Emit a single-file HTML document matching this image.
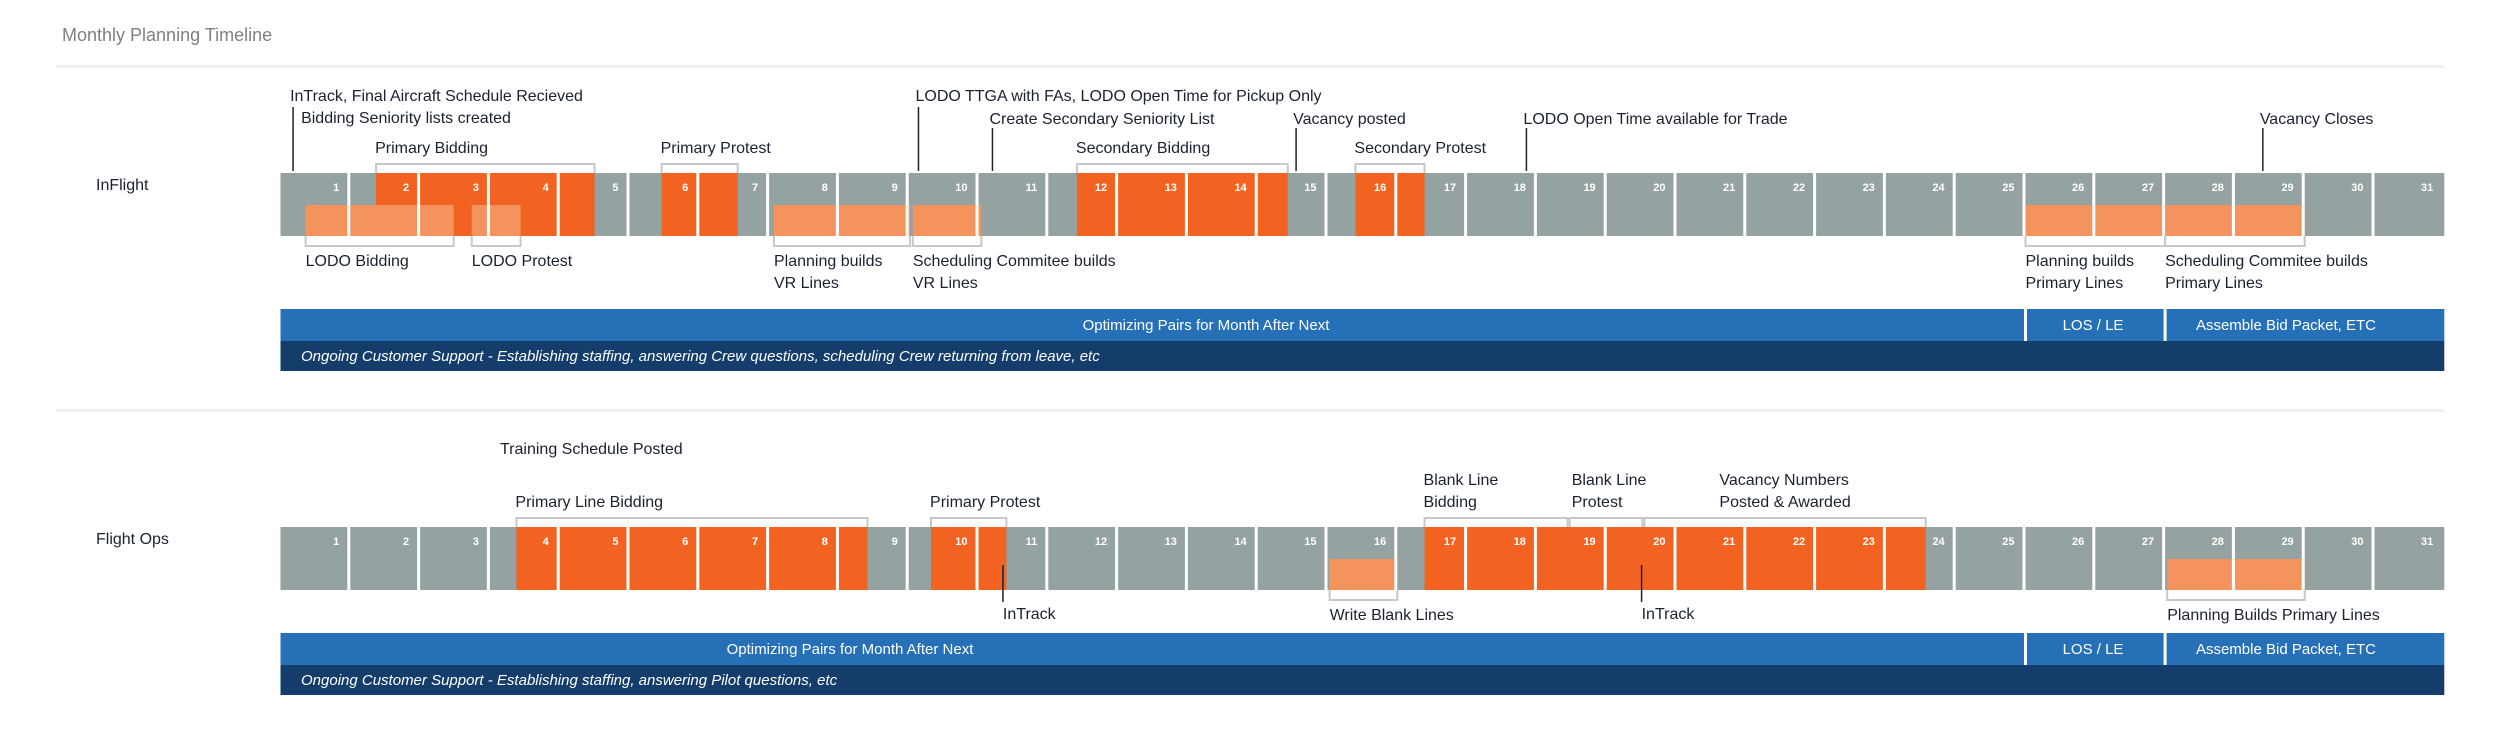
<!DOCTYPE html>
<html><head><meta charset="utf-8"><style>
html,body{margin:0;padding:0;background:#fff;}
svg{display:block;font-family:"Liberation Sans",sans-serif;}
</style></head><body>
<svg id="c" width="2500" height="743" viewBox="0 0 2500 743" xmlns="http://www.w3.org/2000/svg">
<text x="62" y="41" font-size="18" fill="#808080">Monthly Planning Timeline</text>
<rect x="56" y="65" width="2388" height="3" fill="#f0f0f0"/>
<rect x="56" y="409" width="2388" height="3" fill="#f0f0f0"/>
</svg>
<script>
const days = Array.from({length:31},(_,i)=>i+1);
// Inflight data (day units, fractional)
const inflightDark = [[1.37,4.5],[5.46,6.55],[11.41,14.43],[15.4,16.39]];
const inflightLight = [[0.36,2.48],[2.74,3.44],[7.07,9.02],[9.06,10.04],[25,27],[27,29]];
const inflightTopBrackets = [[1.37,4.5],[5.46,6.55],[11.41,14.43],[15.4,16.39]];
const inflightTopBracketLabels = ["Primary Bidding","Primary Protest","Secondary Bidding","Secondary Protest"];
const inflightBottomBrackets = [[0.36,2.48],[2.74,3.44],[7.07,9.02],[9.06,10.04],[25,27],[27,29]];
const inflightBottomLabels = [["LODO Bidding"],["LODO Protest"],["Planning builds","VR Lines"],["Scheduling Commitee builds","VR Lines"],["Planning builds","Primary Lines"],["Scheduling Commitee builds","Primary Lines"]];
const inflightMarkers = [0.18,9.14,10.2,14.55,17.85,28.4];
const inflightMarkerLabels = [["InTrack, Final Aircraft Schedule Recieved","Bidding Seniority lists created"],["LODO TTGA with FAs, LODO Open Time for Pickup Only"],["Create Secondary Seniority List"],["Vacancy posted"],["LODO Open Time available for Trade"],["Vacancy Closes"]];
const inflightMarkerLevel = [0,0,1,1,1,1];
// Flight Ops data
const opsDark = [[3.38,8.41],[9.32,10.4],[16.39,23.57]];
const opsLight = [[15.03,16],[27.03,29]];
const opsTopBrackets = [[3.38,8.41],[9.32,10.4],[16.39,18.44],[18.47,19.51],[19.54,23.57]];
const opsTopBracketLabels = [["Primary Line Bidding"],["Primary Protest"],["Blank Line","Bidding"],["Blank Line","Protest"],["Vacancy Numbers","Posted & Awarded"]];
const opsBottomBrackets = [[15.03,16],[27.03,29]];
const opsBottomLabels = [["Write Blank Lines"],["Planning Builds Primary Lines"]];
const opsBelowMarkers = [10.35,19.5];
const opsBelowMarkerLabels = ["InTrack","InTrack"];
const bandSplits = [0,25,27,31];
const inflightBands = ["Optimizing Pairs for Month After Next","LOS / LE","Assemble Bid Packet, ETC"];
const opsBands = ["Optimizing Pairs for Month After Next","LOS / LE","Assemble Bid Packet, ETC"];

const svg=document.getElementById('c');
const NS='http://www.w3.org/2000/svg';
const X0=280.5, DW=69.8;
function x(d){return X0+d*DW;}
function el(tag,attrs,txt){const e=document.createElementNS(NS,tag);for(const k in attrs)e.setAttribute(k,attrs[k]);if(txt!=null)e.textContent=txt;svg.appendChild(e);return e;}

function row(cfg){
  const T=cfg.top, B=cfg.top+63, M=cfg.top+32;
  let e=el('text',{x:96,y:T+17,'font-size':16,fill:'#1a2230'},cfg.label);
  
  
  e=el('rect',{x:x(0),y:T,width:x(31)-x(0),height:63,fill:'#94a3a1'});
  
  
  cfg.dark.forEach((s,i)=>{
    const r=el('rect',{x:x(s[0]),y:T,width:x(s[1])-x(s[0]),height:63,fill:'#f26322'});
    
    
  });
  cfg.light.forEach((s,i)=>{
    const r=el('rect',{x:x(s[0]),y:M,width:x(s[1])-x(s[0]),height:31,fill:'#f5935f'});
    
    
  });
  days.forEach(d=>{
    if(d<31){const s=el('rect',{x:x(d)-3,y:T,width:3,height:63,fill:'#fff'});
      
      }
    const t=el('text',{x:x(d)-11,y:T+18,'font-size':11,'font-weight':'bold',fill:'#fff','text-anchor':'end'},String(d));
    
    
  });
  cfg.topBr.forEach((s,i)=>{
    const p=el('path',{d:`M${x(s[0])},${T} V${T-9} H${x(s[1])} V${T}`,fill:'none',stroke:'#c5c8cc','stroke-width':2});
    
    
    const lines=cfg.topLbl[i]; const lh=22;
    const dx=(cfg.topDx&&cfg.topDx[i])||0;
    lines.forEach((ln,j)=>{
      const t=el('text',{x:x(s[0])-1+dx,y:T-20-(lines.length-1-j)*lh,'font-size':16,fill:'#1a2230'},ln);
      
      
    });
  });
  cfg.botBr.forEach((s,i)=>{
    const p=el('path',{d:`M${x(s[0])},${B} V${B+10} H${x(s[1])} V${B}`,fill:'none',stroke:'#c5c8cc','stroke-width':2});
    
    
    cfg.botLbl[i].forEach((ln,j)=>{
      const t=el('text',{x:x(s[0]),y:B+30+j*22,'font-size':16,fill:'#1a2230'},ln);
      
      
    });
  });
}

row({key:'inflight',label:'InFlight',top:173,dark:inflightDark,light:inflightLight,topBr:inflightTopBrackets,topLbl:inflightTopBracketLabels.map(s=>[s]),botBr:inflightBottomBrackets,botLbl:inflightBottomLabels});
row({key:'flight-ops',label:'Flight Ops',top:527,dark:opsDark,light:opsLight,topBr:opsTopBrackets,topLbl:opsTopBracketLabels,topDx:[0,0,0,3,76],botBr:opsBottomBrackets,botLbl:opsBottomLabels});

inflightMarkers.forEach((d,i)=>{
  const lvl=inflightMarkerLevel[i];
  const y1= lvl===0?107:128;
  const l=el('line',{x1:x(d),y1:y1,x2:x(d),y2:171,stroke:'#1a2230','stroke-width':1.5});
  
  
  const labs=inflightMarkerLabels[i];
  labs.forEach((ln,j)=>{
    const tx = j===0 ? x(d)-3 : x(d)+8;
    const ty = lvl===0 ? 101+j*22 : 124;
    const t=el('text',{x:tx,y:ty,'font-size':16,fill:'#1a2230'},ln);
    
    
  });
});
let tp=el('text',{x:500,y:454,'font-size':16,fill:'#1a2230'},'Training Schedule Posted');


opsBelowMarkers.forEach((d,i)=>{
  const l=el('line',{x1:x(d),y1:565,x2:x(d),y2:602,stroke:'#1a2230','stroke-width':1.5});
  
  
  const t=el('text',{x:x(d),y:619,'font-size':16,fill:'#1a2230'},opsBelowMarkerLabels[i]);
  
  
});

function bands(key,top,labels,support,textStarts){
  for(let i=0;i<3;i++){
    const r=el('rect',{x:x(bandSplits[i]),y:top,width:x(bandSplits[i+1])-x(bandSplits[i]),height:32,fill:'#2670b8'});
    
    
    if(i>0){const s=el('rect',{x:x(bandSplits[i])-1.5,y:top,width:3,height:32,fill:'#fff'});
      
      }
    const t=el('text',{x:textStarts[i],y:top+21,'font-size':15,fill:'#fff','text-anchor':'middle'},labels[i]);
    
    
  }
  const d=el('rect',{x:x(0),y:top+32,width:x(31)-x(0),height:30,fill:'#143d6b'});
  
  
  const t=el('text',{x:301,y:top+52,'font-size':15,'font-style':'italic',fill:'#fff'},support);
  
  
}
bands('inflight',309,inflightBands,'Ongoing Customer Support - Establishing staffing, answering Crew questions, scheduling Crew returning from leave, etc',[1206,2093,2286]);
bands('flight-ops',633,opsBands,'Ongoing Customer Support - Establishing staffing, answering Pilot questions, etc',[850,2093,2286]);
</script>
</body></html>
